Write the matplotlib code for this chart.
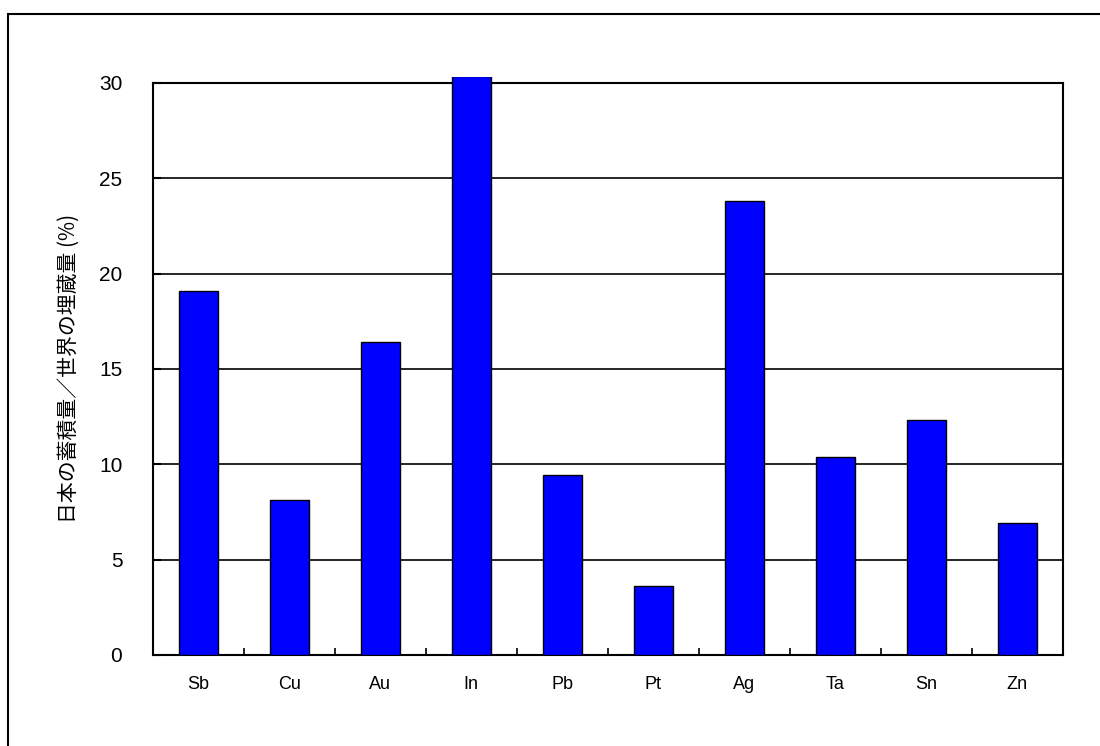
import matplotlib
matplotlib.use('Agg')
import matplotlib.pyplot as plt
from matplotlib.patches import Rectangle
import numpy as np

# Data.
metals = ['Sb', 'Cu', 'Au', 'In', 'Pb', 'Pt', 'Ag', 'Ta', 'Sn', 'Zn']
share_percent = [19.1, 8.1, 16.4, 30.35, 9.45, 3.6, 23.8, 10.4, 12.3, 6.9]
y_ticks = [0, 5, 10, 15, 20, 25, 30]
y_label = '日本の蓄積量／世界の埋蔵量 (%)'

plt.rcParams['font.family'] = ['Noto Sans CJK JP', 'DejaVu Sans']

fig = plt.figure(figsize=(11, 7.46), dpi=100)
ax = fig.add_axes([0.139, 0.122, 0.827, 0.767])

x = np.arange(len(metals))
bars = ax.bar(x, share_percent, width=0.43, color='#0000FF', edgecolor='black',
              linewidth=1.0, zorder=3)
# The In bar pokes above the 30 % top line and is cut off flat in the original.
clip_box = Rectangle((0, 0), 1, 1.011, transform=ax.transAxes, visible=False)
ax.add_patch(clip_box)
for b in bars:
    b.set_clip_path(clip_box)

ax.set_xlim(-0.5, len(metals) - 0.5)
ax.set_ylim(0, 30)
ax.set_yticks(y_ticks)
ax.set_yticklabels([str(v) for v in y_ticks], fontsize=15, family='Liberation Sans')
ax.yaxis.grid(True, color='black', linewidth=1.2, zorder=1)
ax.set_axisbelow(True)

# Category labels centred on bars, tick marks on category boundaries.
ax.set_xticks(x)
ax.set_xticklabels(metals, fontsize=13, family='Liberation Sans')
ax.tick_params(axis='x', which='major', length=0, pad=15)
ax.set_xticks(np.arange(len(metals) + 1) - 0.5, minor=True)
ax.tick_params(axis='x', which='minor', direction='in', length=5, width=1.2)
ax.tick_params(axis='y', direction='in', length=6, width=1.5, pad=22)

for s in ax.spines.values():
    s.set_linewidth(1.5)
    s.set_color('black')

ax.set_ylabel(y_label, fontsize=15)
ax.yaxis.set_label_coords(-0.080, 0.5)

# Outer frame, partly cut off at the right and bottom as in the original.
fig.patches.append(Rectangle((8 / 1100, -0.1), 1.2, 1.0812, transform=fig.transFigure,
                             fill=False, edgecolor='black', linewidth=1.5))

fig.savefig('out.png', dpi=100)
